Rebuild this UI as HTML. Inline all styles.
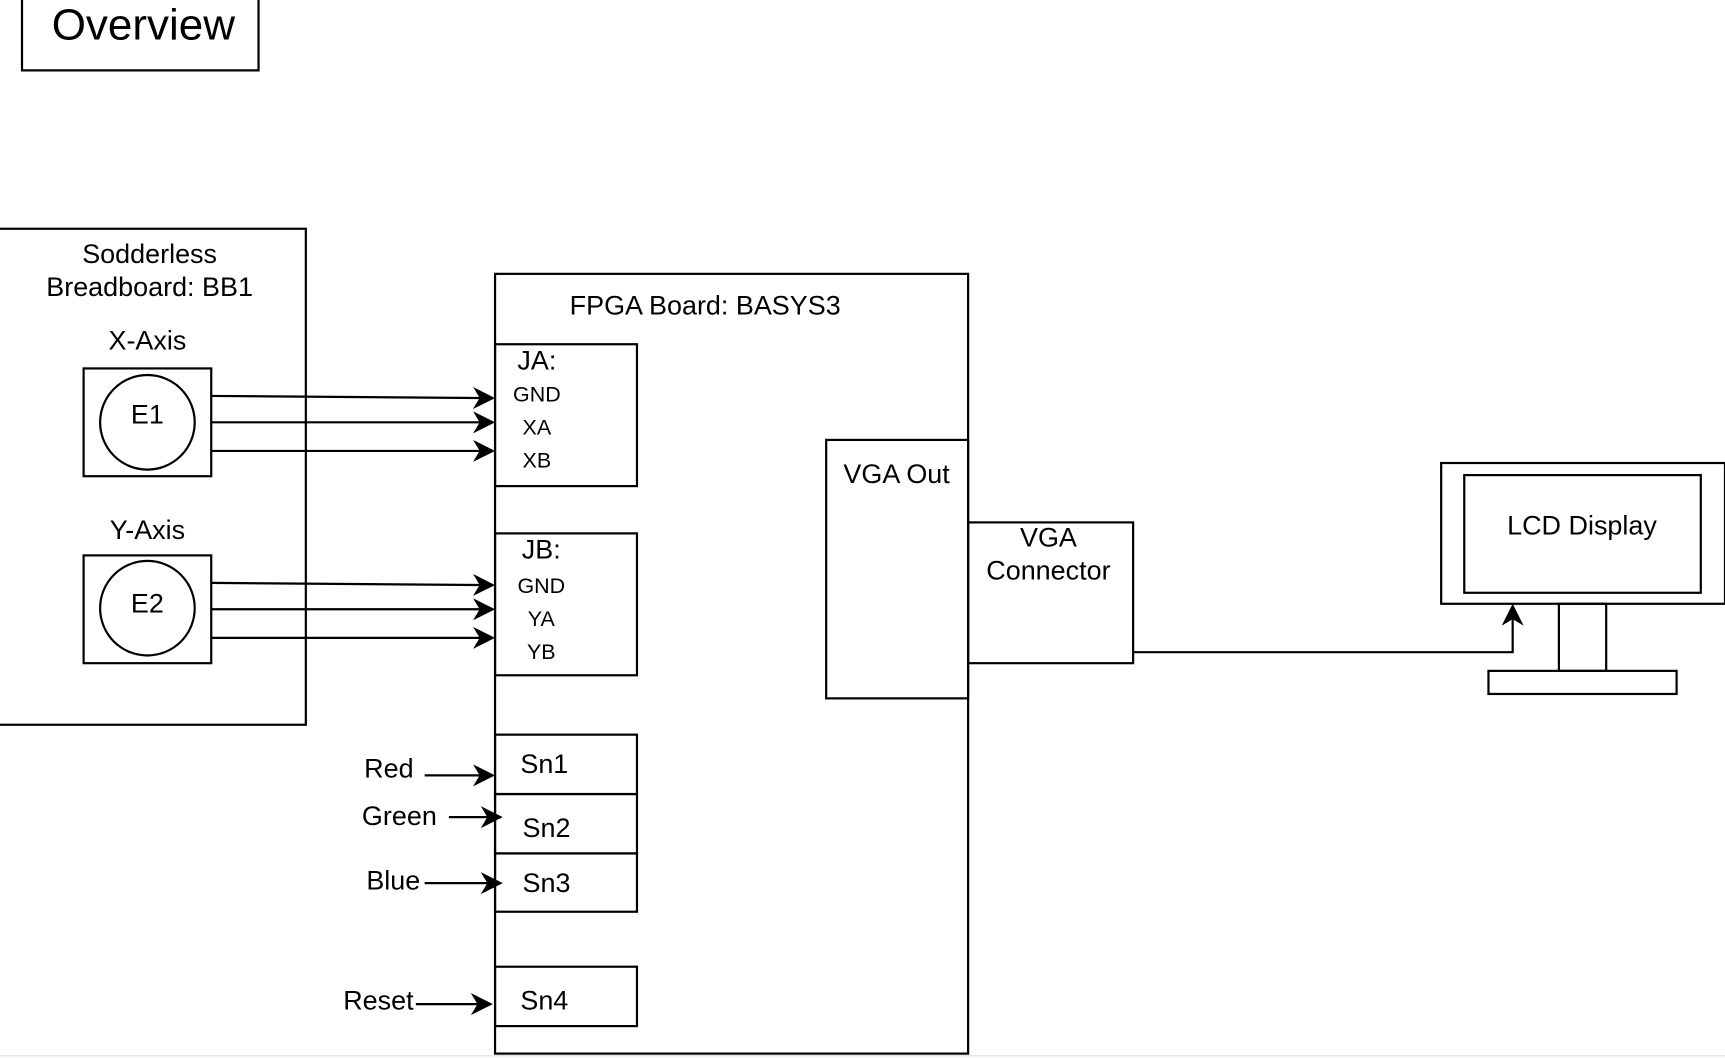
<!DOCTYPE html>
<html><head><meta charset="utf-8"><style>
html,body{margin:0;padding:0;background:#fff;}
svg{display:block;}
text{font-family:"Liberation Sans",Arial,sans-serif;fill:#000;}
</style></head><body>
<svg width="1725" height="1058" viewBox="0 0 1568 962" preserveAspectRatio="none" xmlns="http://www.w3.org/2000/svg">
<defs>
<marker id="b" viewBox="0 0 10 10" refX="9" refY="5" markerWidth="20" markerHeight="20" orient="auto" markerUnits="userSpaceOnUse">
<path d="M0,0 L10,5 L0,10 L3,5 Z" fill="#000"/></marker>
</defs>
<g fill="none" stroke="#000" stroke-width="2">
<rect x="20" y="-2" width="215" height="66"/>
<rect x="-2" y="208" width="280" height="451"/>
<rect x="76" y="335" width="116" height="98"/>
<circle cx="134" cy="384" r="43"/>
<rect x="76" y="505" width="116" height="98"/>
<circle cx="134" cy="553" r="43"/>
<rect x="450" y="249" width="430" height="709"/>
<rect x="450" y="313" width="129" height="129"/>
<rect x="450" y="485" width="129" height="129"/>
<rect x="450" y="668" width="129" height="54"/>
<rect x="450" y="722" width="129" height="54"/>
<rect x="450" y="776" width="129" height="53"/>
<rect x="450" y="879" width="129" height="54"/>
<rect x="751" y="400" width="129" height="235"/>
<rect x="880" y="475" width="150" height="128"/>
<rect x="1310" y="421" width="258" height="128"/>
<rect x="1331" y="432" width="215" height="107"/>
<rect x="1417" y="549" width="43" height="61"/>
<rect x="1353" y="610" width="171" height="21"/>
</g>
<g stroke="#000" stroke-width="2" fill="none">
<path d="M192 360 L448 362" marker-end="url(#b)"/>
<path d="M192 384 L448 384" marker-end="url(#b)"/>
<path d="M192 410 L448 410" marker-end="url(#b)"/>
<path d="M192 530 L448 532" marker-end="url(#b)"/>
<path d="M192 554 L448 554" marker-end="url(#b)"/>
<path d="M192 580 L448 580" marker-end="url(#b)"/>
<path d="M386 705 L448 705" marker-end="url(#b)"/>
<path d="M408 743 L455 743" marker-end="url(#b)"/>
<path d="M386 803 L455 803" marker-end="url(#b)"/>
<path d="M378 913 L446 913" marker-end="url(#b)"/>
<path d="M1030 593 L1375 593 L1375 551" marker-end="url(#b)"/>
</g>
<line x1="0" y1="960" x2="1568" y2="960" stroke="#ddd" stroke-width="1"/>
<text x="47" y="36" font-size="40">Overview</text>
<g font-size="24.5" text-anchor="middle">
<text x="136" y="239">Sodderless</text>
<text x="136" y="269">Breadboard: BB1</text>
<text x="134" y="318">X-Axis</text>
<text x="134" y="385">E1</text>
<text x="134" y="490">Y-Axis</text>
<text x="134" y="557">E2</text>
<text x="641" y="286">FPGA Board: BASYS3</text>
<text x="488" y="336">JA:</text>
<text x="492" y="508">JB:</text>
<text x="815" y="439">VGA Out</text>
<text x="953" y="497">VGA</text>
<text x="953" y="527">Connector</text>
<text x="1438" y="486">LCD Display</text>
</g>
<g font-size="19.5" text-anchor="middle">
<text x="488" y="365">GND</text>
<text x="488" y="395">XA</text>
<text x="488" y="425">XB</text>
<text x="492" y="539">GND</text>
<text x="492" y="569">YA</text>
<text x="492" y="599">YB</text>
</g>
<g font-size="24.5">
<text x="473" y="703">Sn1</text>
<text x="475" y="761">Sn2</text>
<text x="475" y="811">Sn3</text>
<text x="473" y="918">Sn4</text>
<text x="331" y="707">Red</text>
<text x="329" y="750">Green</text>
<text x="333" y="809">Blue</text>
<text x="312" y="918">Reset</text>
</g>
</svg>
</body></html>
